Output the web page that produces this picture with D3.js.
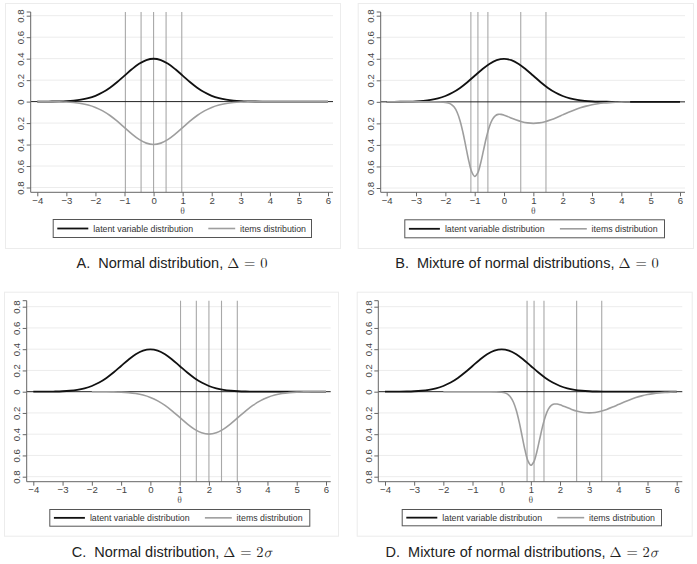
<!DOCTYPE html>
<html>
<head>
<meta charset="utf-8">
<script src="https://cdn.jsdelivr.net/npm/d3@7"></script>
<style>
  html, body { margin: 0; padding: 0; background: #ffffff; }
  svg { display: block; }
</style>
</head>
<body>
<svg id="chart" width="697" height="564"></svg>
<script>
// ---------------- DATA ----------------
const xTicks = [-4, -3, -2, -1, 0, 1, 2, 3, 4, 5, 6];
const yTicks = [0.8, 0.6, 0.4, 0.2, 0, -0.2, -0.4, -0.6, -0.8];
const yTickLabels = ["0.8", "0.6", "0.4", "0.2", "0", "0.2", "0.4", "0.6", "0.8"];
const legendLabels = ["latent variable distribution", "items distribution"];
const captionText = [
  "A.\u00a0 Normal distribution, ",
  "B.\u00a0 Mixture of normal distributions, ",
  "C.\u00a0 Normal distribution, ",
  "D.\u00a0 Mixture of normal distributions, "
];
const captionMath = ["0", "0", "2", "2"];
const captionSigma = [false, false, true, true];

// latent variable distribution (same in all panels)
const latentTheta = [-4, -3.75, -3.5, -3.25, -3, -2.75, -2.5, -2.25, -2, -1.75, -1.5, -1.25, -1, -0.75, -0.5, -0.25, 0,
  0.25, 0.5, 0.75, 1, 1.25, 1.5, 1.75, 2, 2.25, 2.5, 2.75, 3, 3.25, 3.5, 3.75, 4, 5, 6];
const latentDensity = [0.0001, 0.0004, 0.0009, 0.0020, 0.0044, 0.0091, 0.0175, 0.0317, 0.0540, 0.0863, 0.1295, 0.1826, 0.2420, 0.3011, 0.3521, 0.3867, 0.3989,
  0.3867, 0.3521, 0.3011, 0.2420, 0.1826, 0.1295, 0.0863, 0.0540, 0.0317, 0.0175, 0.0091, 0.0044, 0.0020, 0.0009, 0.0004, 0.0001, 0, 0];

// items distribution, panel A
const itemsThetaA = [-4, -3.75, -3.5, -3.25, -3, -2.75, -2.5, -2.25, -2, -1.75, -1.5, -1.25, -1, -0.75, -0.5, -0.25, 0,
  0.25, 0.5, 0.75, 1, 1.25, 1.5, 1.75, 2, 2.25, 2.5, 2.75, 3, 3.25, 3.5, 3.75, 4, 5, 6];
const itemsDensityA = [0.0001, 0.0004, 0.0009, 0.0020, 0.0044, 0.0091, 0.0175, 0.0317, 0.0540, 0.0863, 0.1295, 0.1826, 0.2420, 0.3011, 0.3521, 0.3867, 0.3989,
  0.3867, 0.3521, 0.3011, 0.2420, 0.1826, 0.1295, 0.0863, 0.0540, 0.0317, 0.0175, 0.0091, 0.0044, 0.0020, 0.0009, 0.0004, 0.0001, 0, 0];

// items distribution, panel B (mixture)
const itemsThetaB = [-4, -3.5, -3, -2.5, -2.2, -2.0, -1.9, -1.8, -1.7, -1.6, -1.5, -1.4, -1.3, -1.2, -1.1, -1.0, -0.9, -0.8, -0.7,
  -0.6, -0.5, -0.4, -0.3, -0.2, -0.1, 0.0, 0.1, 0.2, 0.4, 0.6, 0.8, 1.0, 1.2, 1.4, 1.6, 1.8, 2.0, 2.2, 2.4, 2.6, 2.8, 3.0,
  3.2, 3.4, 3.6, 3.8, 4.0, 4.3];
const itemsDensityB = [0, 0, 0.0001, 0.0004, 0.0014, 0.0048, 0.0104, 0.0230, 0.0489, 0.0968, 0.1746, 0.2845, 0.4175, 0.5502, 0.6510, 0.6919, 0.6618, 0.5719, 0.4503,
  0.3288, 0.2306, 0.1649, 0.1294, 0.1161, 0.1164, 0.1236, 0.1339, 0.1451, 0.1666, 0.1842, 0.1955, 0.1995, 0.1955, 0.1842, 0.1666, 0.1449, 0.1210, 0.0971, 0.0749, 0.0555, 0.0395, 0.0270,
  0.0178, 0.0112, 0.0068, 0.0040, 0.0022, 0.0008];

// items distribution, panel C
const itemsThetaC = [-2, -1.75, -1.5, -1.25, -1, -0.75, -0.5, -0.25, 0, 0.25, 0.5, 0.75, 1, 1.25, 1.5, 1.75, 2,
  2.25, 2.5, 2.75, 3, 3.25, 3.5, 3.75, 4, 4.25, 4.5, 4.75, 5, 5.25, 5.5, 5.75, 6];
const itemsDensityC = [0.0001, 0.0004, 0.0009, 0.0020, 0.0044, 0.0091, 0.0175, 0.0317, 0.0540, 0.0863, 0.1295, 0.1826, 0.2420, 0.3011, 0.3521, 0.3867, 0.3989,
  0.3867, 0.3521, 0.3011, 0.2420, 0.1826, 0.1295, 0.0863, 0.0540, 0.0317, 0.0175, 0.0091, 0.0044, 0.0020, 0.0009, 0.0004, 0.0001];

// items distribution, panel D (mixture)
const itemsThetaD = [-2, -1.5, -1, -0.5, -0.2, 0.0, 0.1, 0.2, 0.3, 0.4, 0.5, 0.6, 0.7, 0.8, 0.9, 1.0, 1.1, 1.2, 1.3,
  1.4, 1.5, 1.6, 1.7, 1.8, 1.9, 2.0, 2.1, 2.2, 2.4, 2.6, 2.8, 3.0, 3.2, 3.4, 3.6, 3.8, 4.0, 4.2, 4.4, 4.6, 4.8, 5.0,
  5.2, 5.4, 5.6, 5.8, 6.0];
const itemsDensityD = [0, 0, 0.0001, 0.0004, 0.0014, 0.0048, 0.0104, 0.0230, 0.0489, 0.0968, 0.1746, 0.2845, 0.4175, 0.5502, 0.6510, 0.6919, 0.6618, 0.5719, 0.4503,
  0.3288, 0.2306, 0.1649, 0.1294, 0.1161, 0.1164, 0.1236, 0.1339, 0.1451, 0.1666, 0.1842, 0.1955, 0.1995, 0.1955, 0.1842, 0.1666, 0.1449, 0.1210, 0.0971, 0.0749, 0.0555, 0.0395, 0.0270,
  0.0178, 0.0112, 0.0068, 0.0040, 0.0022];

// item locations (vertical lines)
const itemLinesA = [-0.97, -0.43, 0, 0.43, 0.97];
const itemLinesB = [-1.13, -0.89, -0.55, 0.57, 1.43];
const itemLinesC = [1.03, 1.57, 2, 2.43, 2.97];
const itemLinesD = [0.87, 1.11, 1.45, 2.57, 3.43];

// ---------------- LAYOUT ----------------
const panels = [
  { frame: [5, 3, 340, 248], plot: [30.7, 12, 333, 192.3], xr: [37.3, 328], yr: [15.7, 187.5],
    legend: [52.7, 219, 311, 237], cap: [172, 268], itemsT: itemsThetaA, itemsD: itemsDensityA, lines: itemLinesA },
  { frame: [357.7, 3, 693, 248], plot: [380.7, 12, 685, 192.3], xr: [386.7, 680], yr: [15.7, 188.0],
    legend: [404.3, 219.3, 664, 237.3], cap: [527, 268], itemsT: itemsThetaB, itemsD: itemsDensityB, lines: itemLinesB },
  { frame: [4, 291.7, 338, 535.7], plot: [26.7, 300.7, 330.7, 481.7], xr: [33.3, 326], yr: [306.7, 476.7],
    legend: [49.3, 509, 309.3, 525.7], cap: [172, 556.5], itemsT: itemsThetaC, itemsD: itemsDensityC, lines: itemLinesC },
  { frame: [356.7, 291.7, 691.7, 535.7], plot: [378.3, 300.7, 682.3, 481.7], xr: [385, 676.7], yr: [306.7, 476.7],
    legend: [401.7, 509, 661, 525.3], cap: [522, 556.5], itemsT: itemsThetaD, itemsD: itemsDensityD, lines: itemLinesD }
];

const svg = d3.select("#chart");
const sans = "'Liberation Sans', Arial, Helvetica, sans-serif";
const serif = "'Latin Modern Math', 'DejaVu Serif', 'Liberation Serif', serif";

panels.forEach((p, i) => {
  const g = svg.append("g");
  const x = d3.scaleLinear().domain([-4, 6]).range(p.xr);
  const y = d3.scaleLinear().domain([0.8, -0.8]).range(p.yr);
  const [pl, pt, pr, pb] = p.plot;

  // outer frame
  g.append("rect")
    .attr("x", p.frame[0] + 0.5).attr("y", p.frame[1] + 0.5)
    .attr("width", p.frame[2] - p.frame[0]).attr("height", p.frame[3] - p.frame[1])
    .attr("fill", "#ffffff").attr("stroke", "#ececec").attr("stroke-width", 1);

  // horizontal gridlines
  g.append("g").selectAll("line").data(yTicks.filter(d => d !== 0)).join("line")
    .attr("x1", pl).attr("x2", pr)
    .attr("y1", d => y(d)).attr("y2", d => y(d))
    .attr("stroke", "#ececec").attr("stroke-width", 1);

  // vertical item lines
  g.append("g").selectAll("line").data(p.lines).join("line")
    .attr("x1", d => x(d)).attr("x2", d => x(d))
    .attr("y1", pt).attr("y2", pb)
    .attr("stroke", "#a8a8a8").attr("stroke-width", 1.1);

  // zero line
  g.append("line")
    .attr("x1", pl).attr("x2", pr).attr("y1", y(0)).attr("y2", y(0))
    .attr("stroke", "#222").attr("stroke-width", 1);

  const line = d3.line().curve(d3.curveCatmullRom.alpha(0.5));

  // latent curve
  g.append("path")
    .attr("d", line(latentTheta.map((t, k) => [x(t), y(latentDensity[k])])))
    .attr("fill", "none").attr("stroke", "#111").attr("stroke-width", 1.8);

  // items curve (mirrored below zero)
  g.append("path")
    .attr("d", line(p.itemsT.map((t, k) => [x(t), y(-p.itemsD[k])])))
    .attr("fill", "none").attr("stroke", "#9e9e9e").attr("stroke-width", 1.6);

  // y axis
  const yAxis = g.append("g").attr("transform", `translate(${pl},0)`)
    .call(d3.axisLeft(y).tickValues(yTicks).tickSize(4).tickFormat((d, k) => yTickLabels[k]));
  yAxis.select(".domain").attr("d", `M-4,${pt}H0V${pb}`).attr("stroke", "#666");
  yAxis.selectAll(".tick line").attr("stroke", "#666");
  yAxis.selectAll(".tick text")
    .attr("x", null).attr("dy", null)
    .attr("transform", "rotate(-90)")
    .attr("x", 0).attr("y", -6.6)
    .attr("text-anchor", "middle")
    .attr("font-family", sans).attr("font-size", 9.6).attr("fill", "#444");

  // x axis
  const xAxis = g.append("g").attr("transform", `translate(0,${pb})`)
    .call(d3.axisBottom(x).tickValues(xTicks).tickSize(4).tickFormat(d => d < 0 ? "\u2212" + Math.abs(d) : String(d)));
  xAxis.select(".domain").attr("d", `M${pl},0H${pr}`).attr("stroke", "#666");
  xAxis.selectAll(".tick line").attr("stroke", "#666");
  xAxis.selectAll(".tick text")
    .attr("y", 11.3).attr("dy", null)
    .attr("font-family", sans).attr("font-size", 9.6).attr("fill", "#444");

  // x axis title
  g.append("text")
    .attr("x", x(1)).attr("y", pb + 21.5)
    .attr("text-anchor", "middle")
    .attr("font-family", serif).attr("font-size", 9.6).attr("fill", "#444")
    .text("\u03b8");

  // legend
  const [lx0, ly0, lx1, ly1] = p.legend;
  const lg = g.append("g");
  lg.append("rect")
    .attr("x", lx0 + 0.5).attr("y", ly0 + 0.5)
    .attr("width", lx1 - lx0).attr("height", ly1 - ly0)
    .attr("fill", "#fff").attr("stroke", "#555").attr("stroke-width", 1);
  const ly = (ly0 + ly1) / 2 + 0.5;
  lg.append("line").attr("x1", lx0 + 4.6).attr("x2", lx0 + 35.6).attr("y1", ly).attr("y2", ly)
    .attr("stroke", "#111").attr("stroke-width", 1.8);
  lg.append("text").attr("x", lx0 + 40.6).attr("y", ly + 3.1)
    .attr("font-family", sans).attr("font-size", 8.8).attr("fill", "#333")
    .text(legendLabels[0]);
  lg.append("line").attr("x1", lx0 + 155.6).attr("x2", lx0 + 182.5).attr("y1", ly).attr("y2", ly)
    .attr("stroke", "#9e9e9e").attr("stroke-width", 1.6);
  lg.append("text").attr("x", lx0 + 187.3).attr("y", ly + 3.1)
    .attr("font-family", sans).attr("font-size", 8.8).attr("fill", "#333")
    .text(legendLabels[1]);

  // caption
  const cap = g.append("text")
    .attr("x", p.cap[0]).attr("y", p.cap[1])
    .attr("text-anchor", "middle")
    .attr("font-size", 14.5).attr("fill", "#222");
  cap.append("tspan").attr("font-family", sans).text(captionText[i]);
  cap.append("tspan").attr("font-family", serif).text("\u0394 = " + captionMath[i]);
  if (captionSigma[i]) {
    cap.append("tspan").attr("font-family", serif).attr("font-style", "italic").text("\u03c3");
  }
});
</script>
</body>
</html>
